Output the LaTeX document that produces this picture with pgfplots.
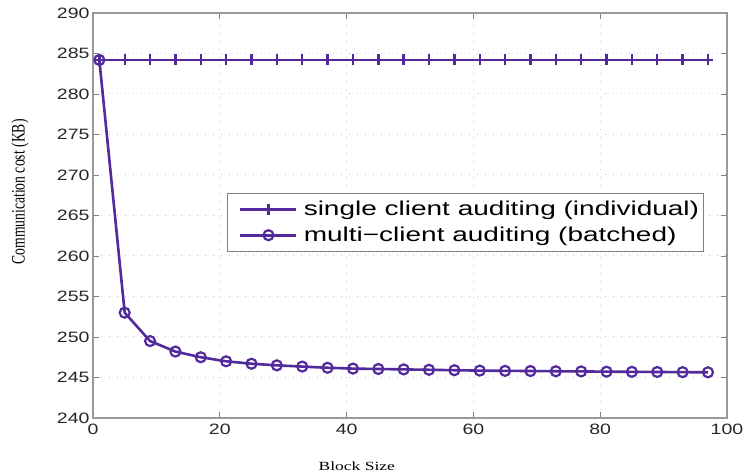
\documentclass[border=0pt]{standalone}
\usepackage{pgfplots}
\pgfplotsset{compat=1.18}
\usepackage{fontspec}
\setmainfont{Liberation Sans}
\newfontfamily\tickfont[FakeStretch=1.3]{Liberation Sans}
\newfontfamily\legfont[FakeStretch=1.4]{Liberation Sans}
\newfontfamily\labfont[FakeStretch=1.4]{Liberation Serif}
\newfontfamily\ylabfont[FakeStretch=0.72]{Liberation Serif}
\definecolor{lc}{RGB}{82,42,155}
\definecolor{gridc}{RGB}{165,215,165}
\begin{document}
\begin{tikzpicture}
\useasboundingbox (-93pt,-55pt) rectangle (650pt,418pt);
\begin{axis}[
  scale only axis, width=634pt, height=405pt,
  xmin=0, xmax=100, ymin=240, ymax=290,
  xtick={0,20,...,100}, ytick={240,245,...,290},
  grid=major, grid style={gridc, line width=1pt, dash pattern=on 1pt off 7pt},
  axis line style={gray!80, line width=1.2pt},
  tick style={gray, line width=0.9pt}, major tick length=6pt, tick align=inside,
  /pgf/number format/assume math mode=true,
  ticklabel style={font=\tickfont\fontsize{15}{17}\selectfont, text=black!85},
  xticklabel style={yshift=-2pt},
  xlabel={Block Size},
  xlabel style={font=\labfont\fontsize{12.5}{14}\selectfont, at={(axis description cs:0.416,-0.13)}, anchor=base},
  ylabel={Communication cost (KB)},
  ylabel style={font=\ylabfont\fontsize{19}{21}\selectfont, at={(axis description cs:-0.115,0.558)}, anchor=center, rotate=0},
  legend style={at={(axis description cs:0.211,0.556)}, anchor=north west, draw=gray, line width=0.8pt,
    font=\legfont\fontsize{20}{22}\selectfont, inner xsep=2pt, inner ysep=6pt, row sep=6pt},
  legend cell align=left,
  legend image code/.code={\path (0pt,0pt) (70pt,0pt);\draw[mark repeat=2,mark phase=2] plot coordinates {(10pt,0pt) (38pt,0pt) (66pt,0pt)};},
]
\addplot[lc, line width=2.6pt, mark=+, mark size=5.5pt, mark options={line width=2.4pt}] coordinates {
(1,284.2) (5,284.2) (9,284.2) (13,284.2) (17,284.2) (21,284.2) (25,284.2) (29,284.2) (33,284.2) (37,284.2)
(41,284.2) (45,284.2) (49,284.2) (53,284.2) (57,284.2) (61,284.2) (65,284.2) (69,284.2) (73,284.2) (77,284.2)
(81,284.2) (85,284.2) (89,284.2) (93,284.2) (97,284.2)};
\addlegendentry{single client auditing (individual)}
\addplot[lc, line width=2.6pt, mark=o, mark size=5pt, mark options={line width=2.2pt}] coordinates {
(1,284.2) (5,253.0) (9,249.5) (13,248.2) (17,247.5) (21,247.0) (25,246.7) (29,246.5) (33,246.35) (37,246.2)
(41,246.1) (45,246.05) (49,246.0) (53,245.95) (57,245.9) (61,245.85) (65,245.82) (69,245.8) (73,245.77) (77,245.75)
(81,245.72) (85,245.7) (89,245.68) (93,245.66) (97,245.64)};
\addlegendentry{multi{\char"2212}client auditing (batched)}
\end{axis}
\end{tikzpicture}
\end{document}
